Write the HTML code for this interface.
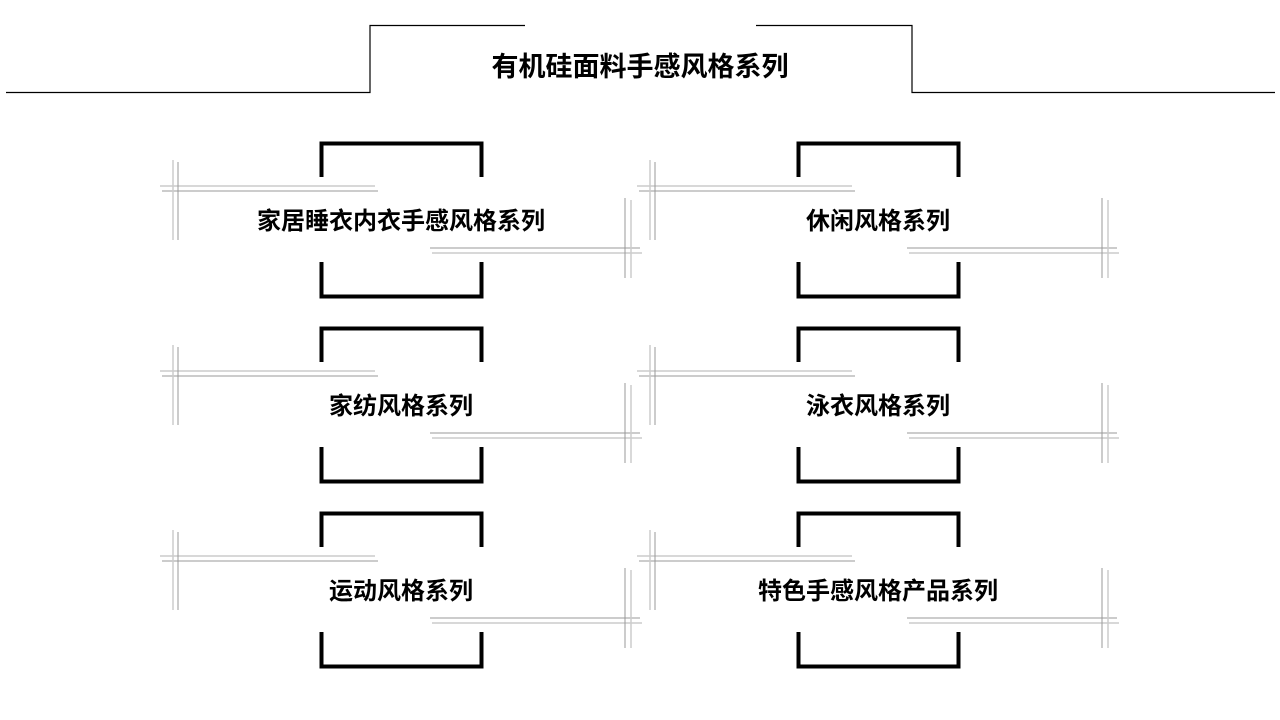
<!DOCTYPE html>
<html><head><meta charset="utf-8"><style>
html,body{margin:0;padding:0;background:#fff;width:1280px;height:720px;overflow:hidden}
text{font-family:"Liberation Sans","Noto Sans CJK SC",sans-serif;font-weight:bold;fill:#000}
</style></head><body>
<svg width="1280" height="720" xmlns="http://www.w3.org/2000/svg">
<g fill="none" stroke="#000" stroke-width="1.2">
<polyline points="6,92.5 370,92.5 370,25.5 525,25.5"/>
<polyline points="756,25.5 912,25.5 912,92.5 1275,92.5"/>
</g>
<text x="640" y="76" font-size="27" text-anchor="middle">有机硅面料手感风格系列</text>
<defs>
<g id="card">
<polyline points="321.5,177 321.5,143.5 481.5,143.5 481.5,177" fill="none" stroke="#000" stroke-width="4"/>
<polyline points="321.5,262 321.5,296.5 481.5,296.5 481.5,262" fill="none" stroke="#000" stroke-width="4"/>
<line x1="160" y1="186" x2="375" y2="186" stroke="#ccc" stroke-width="1.5"/>
<line x1="162" y1="191" x2="378" y2="191" stroke="#999" stroke-width="1"/>
<line x1="173" y1="160" x2="173" y2="240" stroke="#ccc" stroke-width="1.5"/>
<line x1="178" y1="162" x2="178" y2="240" stroke="#999" stroke-width="1"/>
<line x1="430" y1="248" x2="640" y2="248" stroke="#999" stroke-width="1"/>
<line x1="432" y1="253" x2="642" y2="253" stroke="#ccc" stroke-width="1.5"/>
<line x1="625" y1="198" x2="625" y2="278" stroke="#999" stroke-width="1"/>
<line x1="631" y1="200" x2="631" y2="278" stroke="#ccc" stroke-width="1.5"/>
</g>
</defs>
<use href="#card"/>
<use href="#card" transform="translate(0,185)"/>
<use href="#card" transform="translate(0,370)"/>
<use href="#card" transform="translate(477,0)"/>
<use href="#card" transform="translate(477,185)"/>
<use href="#card" transform="translate(477,370)"/>
<g font-size="24" text-anchor="middle">
<text x="401" y="229">家居睡衣内衣手感风格系列</text>
<text x="401" y="414">家纺风格系列</text>
<text x="401" y="599">运动风格系列</text>
<text x="878" y="229">休闲风格系列</text>
<text x="878" y="414">泳衣风格系列</text>
<text x="878" y="599">特色手感风格产品系列</text>
</g>
</svg>
</body></html>
